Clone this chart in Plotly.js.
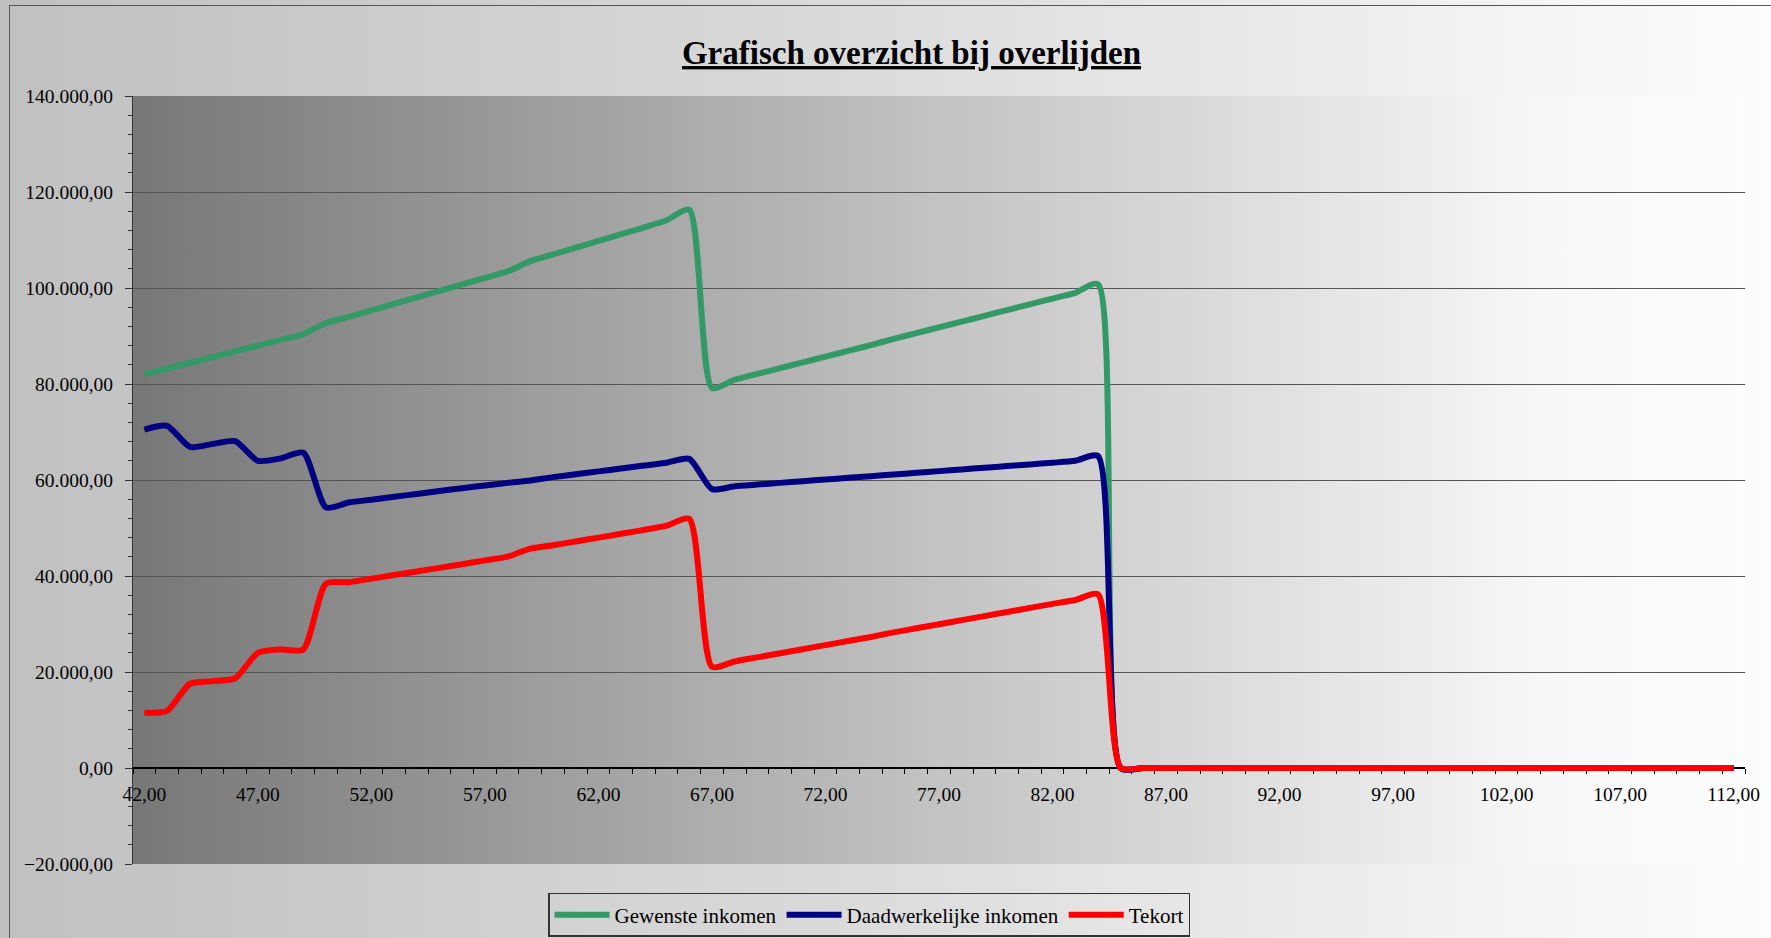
<!DOCTYPE html>
<html>
<head>
<meta charset="utf-8">
<script src="https://cdn.plot.ly/plotly-3.0.1.min.js"></script>
<style>
  html, body { margin: 0; padding: 0; width: 1771px; height: 938px; overflow: hidden; }
  #wrap { position: relative; width: 1771px; height: 938px;
          background: linear-gradient(to right, #c0c0c0 0%, #dcdcdc 50%, #fdfdfd 100%); }
  #chart { position: absolute; left: 0; top: 0; width: 1771px; height: 938px; }
  #frame { position: absolute; left: 9px; top: 5px; right: -10px; bottom: -10px;
           border-left: 1.5px solid #555; border-top: 1.5px solid #555; pointer-events: none; }
</style>
</head>
<body>
<div id="wrap"><div id="chart"></div><div id="frame"></div></div>
<script>
// Age (x categories)
const ages = [42,43,44,45,46,47,48,49,50,51,52,53,54,55,56,57,58,59,60,61,62,63,64,65,66,67,68,69,70,
  71,72,73,74,75,76,77,78,79,80,81,82,83,84,85,86,87,88,89,90,91,92,93,94,95,96,97,98,99,100,
  101,102,103,104,105,106,107,108,109,110,111,112];

// Gewenste inkomen
const gewenst = [82000,83200,84400,85600,86800,88000,89200,90400,92700,94000,95350,96700,98050,99400,
  100750,102100,103450,105600,107000,108400,109800,111200,112600,114100,116300,79200,80900,82100,83300,
  84500,85700,86900,88100,89400,90600,91800,93000,94200,95400,96600,97800,99000,100800,0,
  0,0,0,0,0,0,0,0,0,0,0,0,0,0,0,0,0,0,0,0,0,0,0,0,0,0,0];

// Daadwerkelijke inkomen
const daadwerkelijk = [70500,71300,66900,67500,68100,64000,64500,65700,54300,55300,55900,56500,57100,57700,
  58300,58850,59400,59900,60600,61200,61800,62400,63000,63600,64400,58100,58700,59050,59400,
  59750,60100,60450,60800,61150,61500,61850,62200,62550,62900,63250,63600,64000,65000,0,
  0,0,0,0,0,0,0,0,0,0,0,0,0,0,0,0,0,0,0,0,0,0,0,0,0,0,0];

// Tekort
const tekort = [11500,11900,17500,18100,18700,24000,24700,24700,38400,38700,39450,40200,40950,41700,
  42450,43250,44050,45700,46400,47200,48000,48800,49600,50500,51900,21100,22200,23050,23900,
  24750,25600,26450,27300,28250,29100,29950,30800,31650,32500,33350,34200,35000,36200,0,
  0,0,0,0,0,0,0,0,0,0,0,0,0,0,0,0,0,0,0,0,0,0,0,0,0,0,0];

const seriesNames = ['Gewenste inkomen', 'Daadwerkelijke inkomen', 'Tekort'];
const seriesColors = ['#339966', '#000080', '#ff0000'];
const seriesValues = [gewenst, daadwerkelijk, tekort];

const FONT = 'Liberation Serif, Times New Roman, serif';

const traces = seriesValues.map((vals, i) => ({
  type: 'scatter', mode: 'lines', name: seriesNames[i], x: ages, y: vals,
  line: { color: seriesColors[i], width: 6, shape: 'spline', smoothing: 0.65 },
  hoverinfo: 'x+y+name'
}));

const gradSvg = '<svg xmlns="http://www.w3.org/2000/svg" width="100" height="10" preserveAspectRatio="none">' +
  '<defs><linearGradient id="g" x1="0" y1="0" x2="1" y2="0">' +
  '<stop offset="0" stop-color="#777777"/><stop offset="0.5" stop-color="#c3c3c3"/>' +
  '<stop offset="0.88" stop-color="#f8f8f8"/><stop offset="1" stop-color="#fdfdfd"/></linearGradient></defs>' +
  '<rect width="100" height="10" fill="url(#g)"/></svg>';

const layout = {
  width: 1771, height: 938,
  paper_bgcolor: 'rgba(0,0,0,0)', plot_bgcolor: 'rgba(0,0,0,0)',
  margin: { l: 133, r: 26, t: 96, b: 74, pad: 0 },
  separators: ',.',
  font: { family: FONT, size: 19, color: '#000' },
  showlegend: true,
  title: {
    text: 'Grafisch overzicht bij overlijden',
    font: { family: FONT, size: 33, weight: 'bold', color: '#000', lineposition: 'under' },
    x: 0.5147, xref: 'container', xanchor: 'center',
    y: 0.944, yref: 'container', yanchor: 'middle'
  },
  xaxis: {
    range: [41.5, 112.5], anchor: 'free', position: 0.1245, layer: 'below traces',
    tick0: 42, dtick: 5, tickformat: '.2f', ticks: '', ticklabelstandoff: 8,
    showgrid: false, zeroline: false,
    showline: true, linecolor: '#000', linewidth: 1.5,
    minor: { tick0: 41.5, dtick: 1, ticks: 'outside', ticklen: 5, tickcolor: '#000', tickwidth: 1, showgrid: false },
    tickfont: { family: FONT, size: 19.5, color: '#000' }
  },
  yaxis: {
    range: [-20000, 140000], tick0: 0, dtick: 20000, tickformat: ',.2f',
    ticks: 'outside', ticklen: 7, tickcolor: '#333', ticklabelstandoff: 8,
    showgrid: true, gridcolor: '#555555', gridwidth: 1,
    zeroline: false, showline: true, linecolor: '#333', linewidth: 1,
    minor: { dtick: 4000, ticks: 'outside', ticklen: 4, tickcolor: '#333', showgrid: false },
    tickfont: { family: FONT, size: 19.5, color: '#000' }
  },
  legend: {
    orientation: 'h', xref: 'container', yref: 'container',
    x: 0.4907, xanchor: 'center', y: 0.048, yanchor: 'top',
    bgcolor: 'rgba(0,0,0,0)', bordercolor: '#333', borderwidth: 1.5,
    font: { family: FONT, size: 21, color: '#000' },
    itemwidth: 55, tracegroupgap: 0
  },
  images: [{
    source: 'data:image/svg+xml;charset=utf-8,' + encodeURIComponent(gradSvg),
    xref: 'paper', yref: 'paper', x: 0, y: 1, sizex: 1, sizey: 1,
    xanchor: 'left', yanchor: 'top', sizing: 'stretch', layer: 'below'
  }]
};

Plotly.newPlot('chart', traces, layout, { displayModeBar: false, responsive: false });
</script>
</body>
</html>
